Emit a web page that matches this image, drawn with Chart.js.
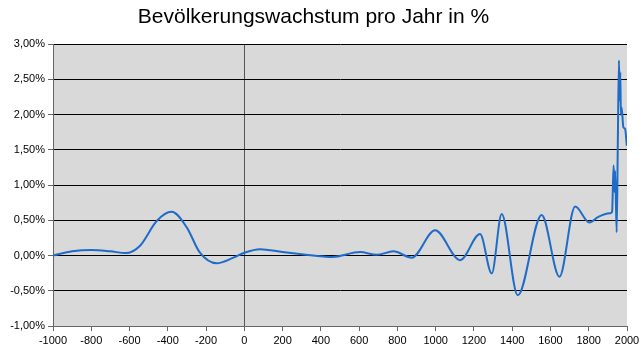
<!DOCTYPE html>
<html>
<head>
<meta charset="utf-8">
<script src="https://cdn.jsdelivr.net/npm/chart.js@4"></script>
<style>
  html, body { margin: 0; padding: 0; background: #fff; }
  #wrap { width: 643px; height: 360px; }
</style>
</head>
<body>
<div id="wrap"><canvas id="Chart"></canvas></div>
<script>
// Jahr und Wachstum (% pro Jahr)
let years = [-1000, -900, -800, -700, -620, -545, -458, -380, -301, -232, -145, -57, 0, 82, 200, 300, 460,
  605, 692, 779, 875, 997, 1128, 1232, 1293, 1345, 1429, 1554, 1647, 1729, 1803, 1850, 1911, 1922,
  1930, 1935, 1938, 1946, 1952, 1958, 1962, 1965, 1968, 1972, 1981, 1990, 1999];
let growth = [0.00, 0.06, 0.08, 0.06, 0.035, 0.14, 0.49, 0.62, 0.40, 0.04, -0.11, -0.03, 0.04, 0.09, 0.05, 0.02, -0.02,
  0.05, 0.01, 0.06, -0.03, 0.36, -0.065, 0.305, -0.255, 0.59, -0.565, 0.575, -0.30, 0.695, 0.47, 0.55, 0.60, 0.62,
  1.28, 0.90, 1.20, 0.33, 1.60, 2.77, 2.20, 2.60, 2.00, 2.10, 1.82, 1.80, 1.56];

let titleText = 'Bevölkerungswachstum pro Jahr in %';
let font = "'Liberation Sans', Arial, sans-serif";

let points = years.map((y, i) => ({ x: y, y: growth[i] }));

// grauer Hintergrund der Zeichenfläche
let plotBg = {
  id: 'plotBg',
  beforeDraw(chart) {
    let a = chart.chartArea;
    let c = chart.ctx;
    c.save();
    c.fillStyle = '#d9d9d9';
    c.fillRect(a.left, a.top, a.right - a.left, a.bottom - a.top);
    c.restore();
  }
};

let lineCtx = document.getElementById("Chart");
let lineConfig = {
  type: 'line',
  data: {
    datasets: [{
      data: points,
      borderColor: '#1e6cc8',
      borderWidth: 2,
      pointRadius: 0,
      cubicInterpolationMode: 'monotone',
      fill: false
    }]
  },
  options: {
    responsive: true,
    maintainAspectRatio: false,
    animation: false,
    layout: { padding: { left: 0, right: 16, top: 5, bottom: 0 } },
    plugins: {
      legend: { display: false },
      tooltip: { enabled: false },
      title: {
        display: true,
        text: titleText,
        color: '#000',
        font: { family: font, size: 21, weight: 'normal' },
        padding: { top: 0, bottom: 14 }
      }
    },
    scales: {
      x: {
        type: 'linear',
        min: -1000,
        max: 2000,
        afterFit(scale) { scale.height = 34; },
        ticks: {
          stepSize: 200,
          color: '#000',
          font: { family: font, size: 11 },
          maxRotation: 0,
          autoSkip: false,
          padding: 3,
          callback: v => String(v)
        },
        grid: {
          color: ctx => (ctx.tick && ctx.tick.value === 0) ? '#555' : 'rgba(0,0,0,0)',
          tickColor: '#666',
          tickLength: 5,
          lineWidth: 1
        },
        border: { color: '#666', width: 1 }
      },
      y: {
        min: -1,
        max: 3,
        afterFit(scale) { scale.width = 53; },
        ticks: {
          stepSize: 0.5,
          color: '#000',
          font: { family: font, size: 11 },
          padding: 3,
          callback: v => v.toFixed(2).replace('.', ',') + '%'
        },
        grid: {
          color: '#000',
          tickColor: '#666',
          tickLength: 5,
          lineWidth: 1
        },
        border: { color: '#666', width: 1 }
      }
    }
  },
  plugins: [plotBg]
};
let lineChart = new Chart(lineCtx, lineConfig);
</script>
</body>
</html>
